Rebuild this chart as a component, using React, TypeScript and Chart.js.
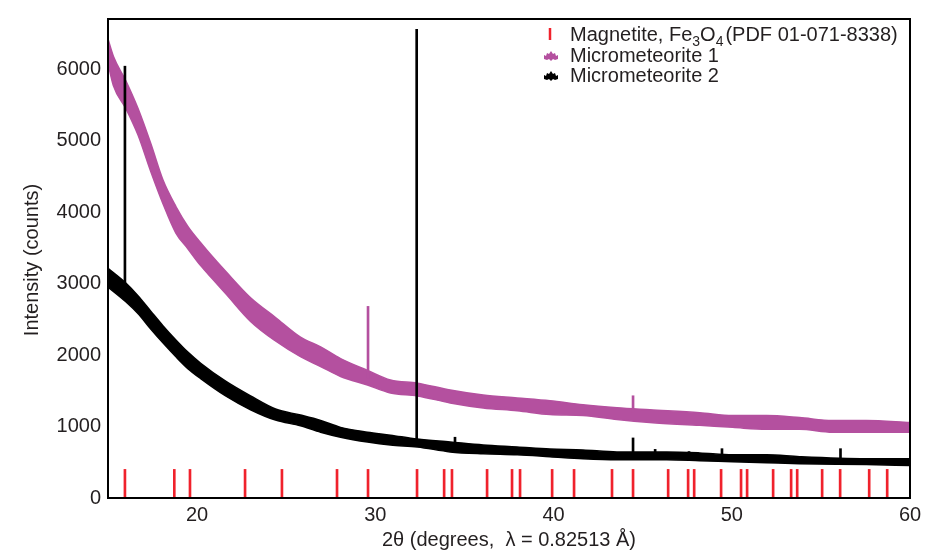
import React, { useEffect, useRef } from "react";
import { Chart, registerables } from "chart.js";

Chart.register(...registerables);

// ---------- data ----------
const xTicks = [20, 30, 40, 50, 60];
const yTicks = [0, 1000, 2000, 3000, 4000, 5000, 6000];

// Magnetite reference positions (2θ, degrees)
const magnetiteX = [
  15.95, 18.72, 19.6, 22.69, 24.76, 27.85, 29.59, 32.34, 33.86, 34.3,
  36.27, 37.67, 38.12, 39.92, 41.15, 43.28, 44.46, 46.43, 47.55, 47.89,
  49.4, 50.52, 50.86, 52.32, 53.33, 53.67, 55.07, 56.08, 57.71, 58.72,
];
const magnetiteRange = [0, 400];

// Micrometeorite 1: noisy band, upper and lower edge
const m1X = [
  15.0, 15.3, 16.0, 16.68, 17.41, 18.08, 18.81, 19.48, 20.2, 20.88,
  21.6, 23.0, 24.4, 25.8, 26.93, 28.05, 29.56, 30.85, 32.36, 34.2,
  36.05, 37.96, 39.8, 41.65, 43.56, 45.4, 48.2, 50.05, 51.95, 53.8,
  55.65, 57.55, 60.0,
];
const m1Hi = [
  6420, 6180, 5835, 5450, 4950, 4450, 4077, 3800, 3570, 3370,
  3170, 2800, 2525, 2250, 2114, 1950, 1785, 1650, 1606, 1510,
  1440, 1400, 1360, 1304, 1263, 1235, 1194, 1153, 1153, 1125,
  1084, 1084, 1057,
];
const m1Lo = [
  6080, 5770, 5450, 5080, 4560, 4120, 3706, 3487, 3250, 3060,
  2860, 2470, 2196, 1977, 1840, 1700, 1580, 1470, 1428, 1330,
  1260, 1220, 1167, 1153, 1098, 1057, 1016, 988, 961, 961,
  920, 920, 920,
];
// Micrometeorite 1: sharp peaks
const m1PeakX = [29.59, 44.46];
const m1PeakBase = [1680, 1200];
const m1PeakTop = [2680, 1430];

// Micrometeorite 2: noisy band, upper and lower edge
const m2X = [
  15.0, 16.0, 16.68, 17.41, 18.08, 18.81, 19.48, 20.2, 21.6, 23.0,
  24.4, 25.8, 26.93, 28.05, 29.56, 30.85, 32.36, 34.2, 36.05, 37.96,
  39.8, 41.65, 43.56, 46.35, 48.2, 50.05, 51.95, 53.8, 57.55, 60.0,
];
const m2Hi = [
  3212, 3006, 2830, 2610, 2410, 2210, 2040, 1885, 1634, 1428,
  1245, 1160, 1084, 988, 920, 879, 824, 783, 741, 714,
  686, 673, 645, 645, 631, 604, 604, 577, 549, 549,
];
const m2Lo = [
  2951, 2745, 2580, 2360, 2170, 1975, 1810, 1670, 1428, 1235,
  1090, 1010, 920, 851, 783, 741, 714, 645, 618, 604,
  577, 549, 535, 535, 522, 508, 494, 480, 467, 453,
];
// Micrometeorite 2: sharp peaks
const m2PeakX = [15.95, 32.32, 34.47, 44.46, 45.7, 47.6, 49.45, 56.1];
const m2PeakBase = [2870, 770, 700, 590, 590, 575, 560, 510];
const m2PeakTop = [6040, 6555, 850, 840, 680, 650, 690, 690];

const legendLabels = ["Micrometeorite 1", "Micrometeorite 2"];

// ---------- styles ----------
const FONT = "'Liberation Sans', Arial, Helvetica, sans-serif";
const TEXT = "#231f20";
const MAGENTA = "#b4509f";
const BLACK = "#000000";
const RED = "#f0222c";

function drawBlob(ctx: CanvasRenderingContext2D, cx: number, cy: number, color: string) {
  const pts = [
    [-7, 3], [-7, -1], [-5, 0], [-4, -3], [-2, -2], [0, -5], [2, -2], [4, -3],
    [5, 0], [7, -1], [7, 3], [4, 4], [2, 3], [0, 5], [-2, 3], [-4, 4],
  ];
  ctx.save();
  ctx.fillStyle = color;
  ctx.beginPath();
  pts.forEach(([dx, dy], i) => {
    if (i === 0) ctx.moveTo(cx + dx, cy + dy);
    else ctx.lineTo(cx + dx, cy + dy);
  });
  ctx.closePath();
  ctx.fill();
  ctx.restore();
}

const decorPlugin = {
  id: "decor",
  afterDatasetsDraw(chart: any) {
    const { ctx, chartArea } = chart;
    ctx.save();
    ctx.strokeStyle = "#000";
    ctx.lineWidth = 2;
    ctx.strokeRect(chartArea.left, chartArea.top, chartArea.right - chartArea.left, chartArea.bottom - chartArea.top);
    ctx.restore();
  },
  afterDraw(chart: any) {
    const { ctx, chartArea } = chart;
    ctx.save();
    ctx.fillStyle = TEXT;
    // axis titles
    ctx.font = `20px ${FONT}`;
    ctx.textAlign = "center";
    ctx.textBaseline = "middle";
    ctx.fillText("2\u03b8 (degrees,  \u03bb = 0.82513 \u00c5)", (chartArea.left + chartArea.right) / 2, 540);
    ctx.save();
    ctx.translate(32, 260);
    ctx.rotate(-Math.PI / 2);
    ctx.fillText("Intensity (counts)", 0, 0);
    ctx.restore();

    // legend
    const tx = 570;
    const rows = [41, 62, 82];
    ctx.textAlign = "left";
    ctx.textBaseline = "alphabetic";
    ctx.strokeStyle = RED;
    ctx.lineWidth = 2.5;
    ctx.beginPath();
    ctx.moveTo(550, 28);
    ctx.lineTo(550, 40);
    ctx.stroke();
    let x = tx;
    const parts: [string, boolean, number][] = [
      ["Magnetite, Fe", false, 0],
      ["3", true, 0],
      ["O", false, 0],
      ["4", true, 0],
      ["(PDF 01-071-8338)", false, 2],
    ];
    for (const [s, sub, gap] of parts) {
      ctx.font = sub ? `14px ${FONT}` : `20px ${FONT}`;
      x += gap;
      ctx.fillText(s, x, rows[0] + (sub ? 5 : 0));
      x += ctx.measureText(s).width;
    }
    ctx.font = `20px ${FONT}`;
    drawBlob(ctx, 551, 56, MAGENTA);
    ctx.fillText(legendLabels[0], tx, rows[1]);
    drawBlob(ctx, 551, 76, BLACK);
    ctx.fillText(legendLabels[1], tx, rows[2]);
    ctx.restore();
  },
};

export default function App() {
  const ref = useRef<HTMLCanvasElement>(null);

  useEffect(() => {
    const canvas = ref.current;
    if (!canvas) return;
    const pts = (xs: number[], ys: number[]) => xs.map((x, i) => ({ x, y: ys[i] }));
    const ranges = (xs: number[], lo: number[], hi: number[]) =>
      xs.map((x, i) => ({ x, y: [lo[i], hi[i]] }));
    const band = {
      borderWidth: 1.5,
      pointRadius: 0,
      cubicInterpolationMode: "monotone",
    };

    const chart = new Chart(canvas, {
      type: "line",
      data: {
        datasets: [
          { ...band, label: "m1Hi", data: pts(m1X, m1Hi), borderColor: MAGENTA, fill: false, order: 2 },
          {
            ...band,
            label: legendLabels[0],
            data: pts(m1X, m1Lo),
            borderColor: MAGENTA,
            backgroundColor: MAGENTA,
            fill: "-1",
            order: 2,
          },
          { ...band, label: "m2Hi", data: pts(m2X, m2Hi), borderColor: BLACK, fill: false, order: 3 },
          {
            ...band,
            label: legendLabels[1],
            data: pts(m2X, m2Lo),
            borderColor: BLACK,
            backgroundColor: BLACK,
            fill: "-1",
            order: 3,
          },
          {
            type: "bar",
            label: "Magnetite",
            data: magnetiteX.map((x) => ({ x, y: [magnetiteRange[0], magnetiteRange[1]] })),
            backgroundColor: RED,
            borderWidth: 0,
            barThickness: 2,
            grouped: false,
            order: 5,
          },
          {
            type: "bar",
            label: "m1 peaks",
            data: ranges(m1PeakX, m1PeakBase, m1PeakTop),
            backgroundColor: MAGENTA,
            borderWidth: 0,
            barThickness: 2,
            grouped: false,
            order: 1,
          },
          {
            type: "bar",
            label: "m2 peaks",
            data: ranges(m2PeakX, m2PeakBase, m2PeakTop),
            backgroundColor: BLACK,
            borderWidth: 0,
            barThickness: 2,
            grouped: false,
            order: 0,
          },
        ] as any,
      },
      options: {
        animation: false,
        responsive: false,
        maintainAspectRatio: false,
        devicePixelRatio: 1,
        layout: { padding: { top: 8, right: 22, left: 0, bottom: 0 } },
        plugins: {
          legend: { display: false },
          tooltip: { enabled: false },
          title: { display: false },
        },
        scales: {
          x: {
            type: "linear",
            min: 15,
            max: 60,
            offset: false,
            grid: { display: false, drawTicks: false },
            border: { display: false },
            afterBuildTicks: (scale: any) => {
              scale.ticks = xTicks.map((v) => ({ value: v }));
            },
            afterFit: (scale: any) => {
              scale.height = 54;
            },
            ticks: {
              padding: 5,
              color: TEXT,
              font: { family: FONT, size: 20 },
              maxRotation: 0,
              autoSkip: false,
              callback: (v: any) => String(v),
            },
          },
          y: {
            type: "linear",
            min: 0,
            max: 6700,
            grid: { display: false, drawTicks: false },
            border: { display: false },
            afterBuildTicks: (scale: any) => {
              scale.ticks = yTicks.map((v) => ({ value: v }));
            },
            afterFit: (scale: any) => {
              scale.width = 108;
            },
            ticks: {
              padding: 7,
              color: TEXT,
              font: { family: FONT, size: 20 },
              autoSkip: false,
              callback: (v: any) => String(v),
            },
          },
        },
      } as any,
      plugins: [decorPlugin],
    });
    return () => chart.destroy();
  }, []);

  return (
    <div style={{ position: "fixed", left: 0, top: 0, width: 932, height: 552, background: "#fff" }}>
      <canvas ref={ref} width={932} height={552} style={{ display: "block" }} />
    </div>
  );
}
